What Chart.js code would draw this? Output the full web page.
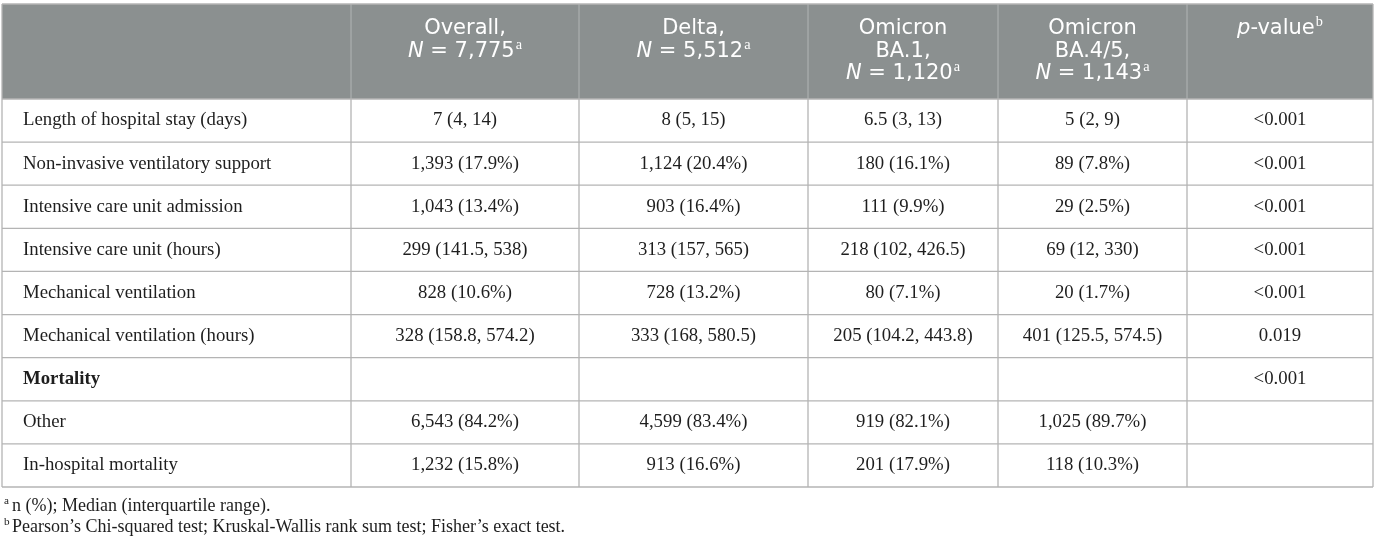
<!DOCTYPE html>
<html>
<head>
<meta charset="utf-8">
<script src="https://cdn.jsdelivr.net/npm/chart.js@4"></script>
<style>
  html, body { margin: 0; padding: 0; background: #fff; }
  #wrap { width: 1375px; height: 545px; position: relative; }
</style>
</head>
<body>
<div id="wrap"><canvas id="c"></canvas></div>
<script>
// ---------- DATA ----------
const rowLabels = [
  "Length of hospital stay (days)",
  "Non-invasive ventilatory support",
  "Intensive care unit admission",
  "Intensive care unit (hours)",
  "Mechanical ventilation",
  "Mechanical ventilation (hours)",
  "Mortality",
  "Other",
  "In-hospital mortality"
];
const boldRows = ["Mortality"];
const colTitles = [["Overall,"], ["Delta,"], ["Omicron", "BA.1,"], ["Omicron", "BA.4/5,"]];
const colN = ["7,775", "5,512", "1,120", "1,143"];
const overall = ["7 (4, 14)", "1,393 (17.9%)", "1,043 (13.4%)", "299 (141.5, 538)", "828 (10.6%)", "328 (158.8, 574.2)", "", "6,543 (84.2%)", "1,232 (15.8%)"];
const delta = ["8 (5, 15)", "1,124 (20.4%)", "903 (16.4%)", "313 (157, 565)", "728 (13.2%)", "333 (168, 580.5)", "", "4,599 (83.4%)", "913 (16.6%)"];
const omicronBA1 = ["6.5 (3, 13)", "180 (16.1%)", "111 (9.9%)", "218 (102, 426.5)", "80 (7.1%)", "205 (104.2, 443.8)", "", "919 (82.1%)", "201 (17.9%)"];
const omicronBA45 = ["5 (2, 9)", "89 (7.8%)", "29 (2.5%)", "69 (12, 330)", "20 (1.7%)", "401 (125.5, 574.5)", "", "1,025 (89.7%)", "118 (10.3%)"];
const pValues = ["<0.001", "<0.001", "<0.001", "<0.001", "<0.001", "0.019", "<0.001", "", ""];
const footnotes = [
  ["a", "n (%); Median (interquartile range)."],
  ["b", "Pearson\u2019s Chi-squared test; Kruskal-Wallis rank sum test; Fisher\u2019s exact test."]
];

// ---------- LAYOUT / STYLE ----------
const COL_W = [228, 229, 190, 189, 186];
const TABLE_LEFT = 2, TABLE_TOP = 4;
const HEADER_LINE1 = 29, HEADER_LH = 22.5;
const LABEL_X = 23;
const HEADER_BG = '#8b9090';
const LINE = '#b4b4b4';
const HEADER_DIV = '#a9adad';
const TEXT = '#1e1e1e';
const SERIF = '"Liberation Serif", "DejaVu Serif", serif';
const SANS = '"DejaVu Sans", "Open Sans", sans-serif';
const BODY_PX = 18.8, HEAD_PX = 21, FOOT_PX = 18;
const FOOT_Y = [506, 527];
const FOOT_SUP_X = 4, FOOT_TEXT_X = 12;

const columns = [overall, delta, omicronBA1, omicronBA45, pValues];
const edges = [0];
COL_W.forEach(w => edges.push(edges[edges.length - 1] + w));

function drawRuns(ctx, runs, cx, cy, size, family, color) {
  const parts = runs.map(r => {
    const s = r.sup ? size * 0.68 : size;
    const fam = r.sup ? SERIF : family;
    const font = (r.italic ? 'italic ' : '') + s + 'px ' + fam;
    ctx.font = font;
    return { t: r.t, font, w: ctx.measureText(r.t).width + (r.sup ? 1 : 0), dy: r.sup ? -size * 0.3 : 0, sup: r.sup };
  });
  const total = parts.reduce((a, p) => a + p.w, 0);
  let x = cx - total / 2;
  ctx.fillStyle = color;
  ctx.textAlign = 'left';
  ctx.textBaseline = 'middle';
  parts.forEach(p => { ctx.font = p.font; ctx.fillText(p.t, x + (p.sup ? 1 : 0), cy + p.dy); x += p.w; });
}

const tablePlugin = {
  id: 'tableDraw',
  beforeDraw(chart) {
    const { ctx } = chart;
    const xs = chart.scales.x, ys = chart.scales.y;
    ctx.save();
    ctx.fillStyle = '#fff';
    ctx.fillRect(0, 0, chart.width, chart.height);
    const R = xs.getPixelForValue(edges[edges.length - 1]);
    const top = ys.getPixelForValue(-0.5);
    ctx.fillStyle = HEADER_BG;
    ctx.fillRect(TABLE_LEFT, TABLE_TOP, R - TABLE_LEFT, top - TABLE_TOP);
    ctx.restore();
  },
  afterDraw(chart) {
    const { ctx } = chart;
    const xs = chart.scales.x, ys = chart.scales.y;
    const n = rowLabels.length;
    const R = xs.getPixelForValue(edges[edges.length - 1]);
    const top = ys.getPixelForValue(-0.5);
    const bottom = ys.getPixelForValue(n - 0.5);
    const labelRight = xs.getPixelForValue(0);
    ctx.save();
    ctx.lineWidth = 1.3;
    ctx.strokeStyle = HEADER_DIV;
    [labelRight].concat(edges.slice(1, -1).map(e => xs.getPixelForValue(e))).forEach(px => {
      ctx.beginPath(); ctx.moveTo(px, TABLE_TOP); ctx.lineTo(px, top); ctx.stroke();
    });
    ctx.strokeStyle = LINE;
    ctx.beginPath(); ctx.moveTo(TABLE_LEFT, TABLE_TOP); ctx.lineTo(R, TABLE_TOP); ctx.stroke();
    ctx.beginPath(); ctx.moveTo(TABLE_LEFT, TABLE_TOP); ctx.lineTo(TABLE_LEFT, top); ctx.stroke();
    ctx.beginPath(); ctx.moveTo(R, TABLE_TOP); ctx.lineTo(R, top); ctx.stroke();
    for (let i = 0; i <= n; i++) {
      const py = ys.getPixelForValue(i - 0.5);
      ctx.beginPath(); ctx.moveTo(TABLE_LEFT, py); ctx.lineTo(R, py); ctx.stroke();
    }
    [TABLE_LEFT, labelRight].concat(edges.slice(1).map(e => xs.getPixelForValue(e))).forEach(px => {
      ctx.beginPath(); ctx.moveTo(px, top); ctx.lineTo(px, bottom); ctx.stroke();
    });
    // header texts
    for (let c = 0; c < colTitles.length; c++) {
      const cx = xs.getPixelForValue((edges[c] + edges[c + 1]) / 2);
      const lines = colTitles[c];
      lines.forEach((t, i) => drawRuns(ctx, [{ t }], cx, HEADER_LINE1 + i * HEADER_LH, HEAD_PX, SANS, '#fff'));
      drawRuns(ctx, [{ t: 'N', italic: true }, { t: ' = ' + colN[c] }, { t: 'a', sup: true }],
        cx, HEADER_LINE1 + lines.length * HEADER_LH, HEAD_PX, SANS, '#fff');
    }
    const pcx = xs.getPixelForValue((edges[4] + edges[5]) / 2);
    drawRuns(ctx, [{ t: 'p', italic: true }, { t: '-value' }, { t: 'b', sup: true }], pcx, HEADER_LINE1, HEAD_PX, SANS, '#fff');
    // body cells
    columns.forEach((col, c) => {
      const cx = xs.getPixelForValue((edges[c] + edges[c + 1]) / 2);
      col.forEach((v, r) => {
        if (v) drawRuns(ctx, [{ t: v }], cx, ys.getPixelForValue(r), BODY_PX, SERIF, TEXT);
      });
    });
    // footnotes
    footnotes.forEach((f, i) => {
      ctx.fillStyle = TEXT;
      ctx.textAlign = 'left';
      ctx.textBaseline = 'middle';
      ctx.font = (FOOT_PX * 0.62) + 'px ' + SERIF;
      ctx.fillText(f[0], FOOT_SUP_X, FOOT_Y[i] - FOOT_PX * 0.28);
      ctx.font = FOOT_PX + 'px ' + SERIF;
      ctx.fillText(f[1], FOOT_TEXT_X, FOOT_Y[i]);
    });
    ctx.restore();
  }
};

new Chart(document.getElementById('c'), {
  type: 'bar',
  data: {
    labels: rowLabels,
    datasets: [{ data: rowLabels.map(() => null), backgroundColor: 'rgba(0,0,0,0)' }]
  },
  options: {
    indexAxis: 'y',
    responsive: true,
    maintainAspectRatio: false,
    animation: false,
    events: [],
    layout: { padding: { left: LABEL_X, right: 2, top: 99, bottom: 58 } },
    plugins: { legend: { display: false }, tooltip: { enabled: false }, title: { display: false } },
    scales: {
      x: { type: 'linear', display: false, min: 0, max: edges[edges.length - 1] },
      y: {
        type: 'category',
        offset: true,
        grid: { display: false },
        border: { display: false },
        afterFit(scale) { scale.width = 351 - LABEL_X; },
        ticks: {
          crossAlign: 'far',
          padding: 0,
          color: TEXT,
          autoSkip: false,
          font: (ctx) => ({
            family: SERIF,
            size: BODY_PX,
            weight: boldRows.includes(rowLabels[ctx.index]) ? 'bold' : 'normal'
          })
        }
      }
    }
  },
  plugins: [tablePlugin]
});
</script>
</body>
</html>
